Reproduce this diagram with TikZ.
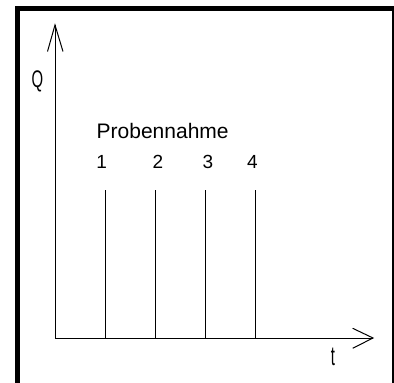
\documentclass[tikz,border=0pt]{standalone}
\usepackage{fontspec}
\setmainfont{Liberation Sans}
\begin{document}
\begin{tikzpicture}[x=1pt,y=-1pt,
  axis/.style={line width=1pt,black},
  mark line/.style={line width=1pt,black},
  frame/.style={fill=black},
  labeltext/.style={inner sep=0pt,anchor=base},
  digit/.style={labeltext,font=\fontsize{19}{22}\selectfont},
  axislabel/.style={inner sep=0pt,anchor=base}]
\useasboundingbox (0,0) rectangle (394,383);
\fill[white] (0,0) rectangle (394,383);
% frame
\fill[frame] (15,6) rectangle (20,383);
\fill[frame] (15,6) rectangle (394,11);
\fill[frame] (392,11) rectangle (393.5,383);
% axes
\coordinate (O) at (55,338);
\coordinate (ytip) at (55,25);
\coordinate (xtip) at (373,338);
\draw[axis] (O) -- (ytip);
\draw[axis] (47.5,51.5) -- (ytip) -- (63,51.5);
\draw[axis] (O) -- (xtip);
\draw[axis] (352.7,328.3) -- (xtip) -- (352.7,348.3);
% sampling lines
\foreach \i/\x in {1/105.7,2/155.7,3/205.7,4/255.7}{
  \coordinate (b\i) at (\x,338);
  \coordinate (t\i) at (\x,190);
  \draw[mark line] (b\i) -- (t\i);
}
% labels
\node[labeltext,anchor=base west,font=\fontsize{21}{25}\selectfont] (prob) at (96.5,138) {Probennahme};
\node[digit] (n1) at (101.7,168) {1};
\node[digit] (n2) at (157.8,168) {2};
\node[digit] (n3) at (207.8,168) {3};
\node[digit] (n4) at (252.5,168) {4};
\node[axislabel] (Q) at (37.5,87) {\scalebox{0.62}[1]{\fontsize{24}{28}\selectfont Q}};
\node[axislabel] (t) at (333,365) {\scalebox{0.55}[1]{\fontsize{27}{30}\selectfont t}};
\end{tikzpicture}
\end{document}
